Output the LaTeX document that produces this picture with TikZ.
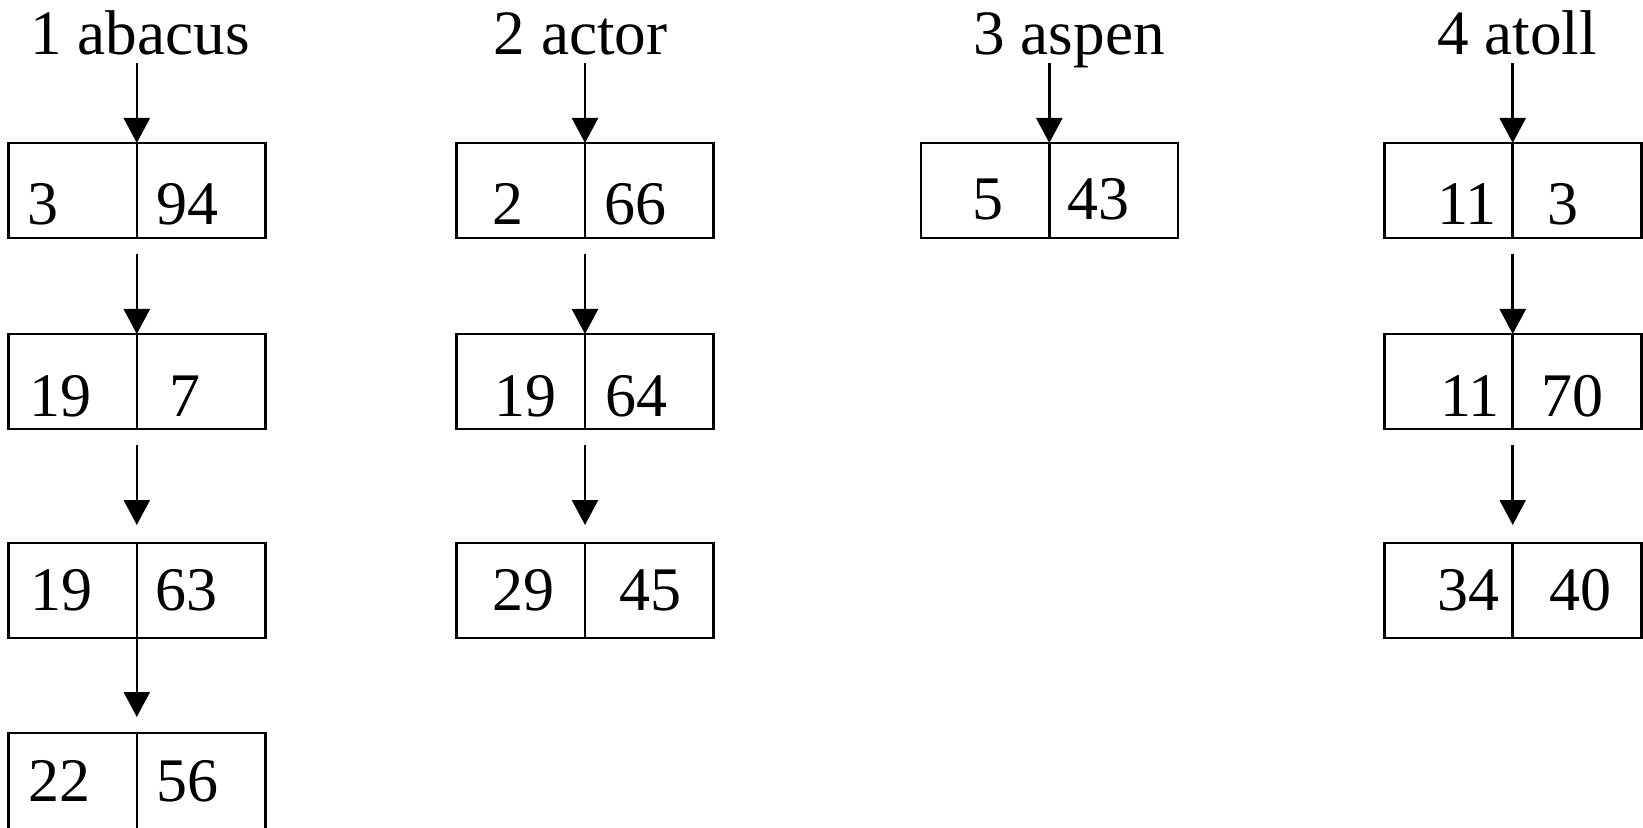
\documentclass[tikz,border=0pt]{standalone}
\usepackage{fontspec}
\setmainfont{Liberation Serif}
\usetikzlibrary{arrows.meta, positioning}

\begin{document}
\begin{tikzpicture}[x=0.5pt, y=-0.5pt,
    cell/.style={draw, line width=1.3pt, minimum width=64.25pt, minimum height=47.5pt,
                 inner sep=0pt, outer sep=0pt, anchor=north west},
    lastcell/.style={cell, minimum height=50pt},
    num/.style={inner sep=0pt, anchor=base, font=\fontsize{31}{36}\selectfont},
    title/.style={inner sep=0pt, anchor=base, font=\fontsize{31.6}{36}\selectfont},
    arr/.style={line width=1.25pt, -{Triangle[width=13pt, length=12.5pt]}}]
  \useasboundingbox (0,0) rectangle (1643,828);

  % list heads
  \node[title] (tab) at (140,54.5)  {1 abacus};
  \node[title] (tac) at (580.5,54.5) {2 actor};
  \node[title] (tas) at (1069,54.5) {3 aspen};
  \node[title] (tat) at (1517,54.5) {4 atoll};

  % 1 abacus
  \node[cell] (ab1a) at (8.3,143) {};   \node[cell] (ab1b) at (ab1a.north east) {};
  \node[cell] (ab2a) at (8.3,334) {};   \node[cell] (ab2b) at (ab2a.north east) {};
  \node[cell] (ab3a) at (8.3,543) {};   \node[cell] (ab3b) at (ab3a.north east) {};
  \node[lastcell] (ab4a) at (8.3,733) {}; \node[lastcell] (ab4b) at (ab4a.north east) {};
  \node[num] (ab1x) at (42.5,224.5) {3};  \node[num] (ab1y) at (187.5,224.5) {94};
  \node[num] (ab2x) at (60,416)    {19}; \node[num] (ab2y) at (184.5,416)   {7};
  \node[num] (ab3x) at (61.5,610.5) {19}; \node[num] (ab3y) at (186,610.5)   {63};
  \node[num] (ab4x) at (59.5,801.5) {22}; \node[num] (ab4y) at (187.5,801.5) {56};

  % 2 actor
  \node[cell] (ac1a) at (456.5,143) {}; \node[cell] (ac1b) at (ac1a.north east) {};
  \node[cell] (ac2a) at (456.5,334) {}; \node[cell] (ac2b) at (ac2a.north east) {};
  \node[cell] (ac3a) at (456.5,543) {}; \node[cell] (ac3b) at (ac3a.north east) {};
  \node[num] (ac1x) at (508,224.5)   {2};  \node[num] (ac1y) at (635.5,224.5) {66};
  \node[num] (ac2x) at (525.5,416)   {19}; \node[num] (ac2y) at (636,416)     {64};
  \node[num] (ac3x) at (523,610.5)   {29}; \node[num] (ac3y) at (650,610.5)   {45};

  % 3 aspen
  \node[cell] (as1a) at (920.8,143) {}; \node[cell] (as1b) at (as1a.north east) {};
  \node[num] (as1x) at (987.5,220) {5}; \node[num] (as1y) at (1098,220) {43};

  % 4 atoll
  \node[cell] (at1a) at (1384.2,143) {}; \node[cell] (at1b) at (at1a.north east) {};
  \node[cell] (at2a) at (1384.2,334) {}; \node[cell] (at2b) at (at2a.north east) {};
  \node[cell] (at3a) at (1384.2,543) {}; \node[cell] (at3b) at (at3a.north east) {};
  \node[num] (at1x) at (1467,224.5) {11}; \node[num] (at1y) at (1562.5,224.5) {3};
  \node[num] (at2x) at (1470,416)   {11}; \node[num] (at2y) at (1572,416)     {70};
  \node[num] (at3x) at (1468,610.5) {34}; \node[num] (at3y) at (1580.5,610.5) {40};

  % pointers
  \draw[arr, shorten <=4.5pt] (tab.base -| ab1a.north east) -- (ab1a.north east);
  \draw[arr, shorten <=4.5pt] (tac.base -| ac1a.north east) -- (ac1a.north east);
  \draw[arr, shorten <=4.5pt] (tas.base -| as1a.north east) -- (as1a.north east);
  \draw[arr, shorten <=4.5pt] (tat.base -| at1a.north east) -- (at1a.north east);

  \draw[arr, shorten <=8pt] (ab1a.south east) -- (ab2a.north east);
  \draw[arr, shorten <=8pt, shorten >=9pt] (ab2a.south east) -- (ab3a.north east);
  \draw[arr, shorten >=8pt] (ab3a.south east) -- (ab4a.north east);

  \draw[arr, shorten <=8pt] (ac1a.south east) -- (ac2a.north east);
  \draw[arr, shorten <=8pt, shorten >=9pt] (ac2a.south east) -- (ac3a.north east);

  \draw[arr, shorten <=8pt] (at1a.south east) -- (at2a.north east);
  \draw[arr, shorten <=8pt, shorten >=9pt] (at2a.south east) -- (at3a.north east);
\end{tikzpicture}
\end{document}
